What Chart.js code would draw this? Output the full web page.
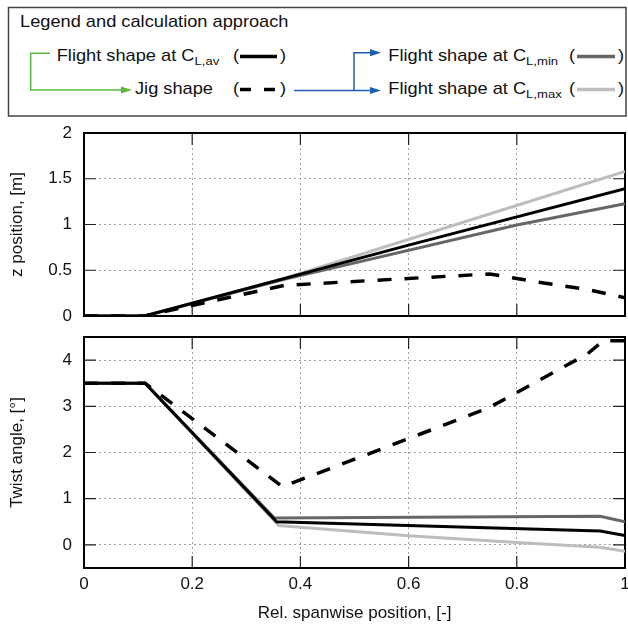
<!DOCTYPE html>
<html>
<head>
<meta charset="utf-8">
<script src="https://cdn.jsdelivr.net/npm/chart.js@4.4.1/dist/chart.umd.min.js"></script>
<style>
  html, body { margin: 0; padding: 0; background: #fff; }
  #wrap { position: relative; width: 628px; height: 630px; overflow: hidden; }
  #legend { position: absolute; left: 0; top: 0; }
  canvas { position: absolute; left: 0; }
  #zChart { top: 120px; }
  #twChart { top: 320px; }
  svg text { font-family: "Liberation Sans", Arial, sans-serif; fill: #111; }
</style>
</head>
<body>
<div id="wrap">
  <svg id="legend" width="628" height="120">
    <rect x="8.5" y="7.5" width="617.5" height="108.5" fill="none" stroke="#444" stroke-width="1.5"/>
    <text font-size="16" transform="translate(20,26.7) scale(1.14,1)">Legend and calculation approach</text>

    <!-- left column -->
    <text font-size="16" transform="translate(56.7,61) scale(1.14,1)">Flight shape at C<tspan font-size="11.5" dy="4">L,av</tspan></text>
    <text font-size="16" transform="translate(233,61) scale(1.14,1)">(</text>
    <line x1="240" x2="277" y1="56.5" y2="56.5" stroke="#000" stroke-width="3.5"/>
    <text font-size="16" transform="translate(280,61) scale(1.14,1)">)</text>

    <text font-size="16" transform="translate(135,94) scale(1.14,1)">Jig shape</text>
    <text font-size="16" transform="translate(233,94) scale(1.14,1)">(</text>
    <line x1="240" x2="251" y1="89.5" y2="89.5" stroke="#000" stroke-width="3.5"/>
    <line x1="264" x2="275" y1="89.5" y2="89.5" stroke="#000" stroke-width="3.5"/>
    <text font-size="16" transform="translate(280,94) scale(1.14,1)">)</text>

    <!-- right column -->
    <text font-size="16" transform="translate(388.3,61) scale(1.14,1)">Flight shape at C<tspan font-size="11.5" dy="4">L,min</tspan></text>
    <text font-size="16" transform="translate(569,61) scale(1.14,1)">(</text>
    <line x1="577" x2="615" y1="56.5" y2="56.5" stroke="#666" stroke-width="3.5"/>
    <text font-size="16" transform="translate(618,61) scale(1.14,1)">)</text>

    <text font-size="16" transform="translate(388.3,94) scale(1.14,1)">Flight shape at C<tspan font-size="11.5" dy="4">L,max</tspan></text>
    <text font-size="16" transform="translate(569,94) scale(1.14,1)">(</text>
    <line x1="577" x2="615" y1="89.5" y2="89.5" stroke="#bdbdbd" stroke-width="3.5"/>
    <text font-size="16" transform="translate(618,94) scale(1.14,1)">)</text>

    <!-- calculation arrows -->
    <path d="M50,53.3 H30.7 V90 H122" fill="none" stroke="#5cb83c" stroke-width="1.5"/>
    <polygon points="121,86.4 132,90 121,93.6" fill="#5cb83c"/>
    <path d="M294,90.5 H371 M354,90.5 V52.7 H371" fill="none" stroke="#1c5fae" stroke-width="1.5"/>
    <polygon points="370,49.1 381,52.7 370,56.3" fill="#1c5fae"/>
    <polygon points="370,86.9 381,90.5 370,94.1" fill="#1c5fae"/>
  </svg>
  <canvas id="zChart" width="628" height="210"></canvas>
  <canvas id="twChart" width="628" height="310"></canvas>
</div>

<script>
const FONT = '"Liberation Sans", Arial, sans-serif';
const TICK = 12;

// tick values
const xTicks = [0, 0.2, 0.4, 0.6, 0.8, 1];
const zTicks = [0, 0.5, 1, 1.5, 2];
const twistTicks = [0, 1, 2, 3, 4];

// z position, [m]
const zAvX  = [0, 0.112, 0.6, 1];
const zAvY  = [0, 0, 0.775, 1.39];
const zJigX = [0, 0.112, 0.37, 0.75, 0.84, 0.93, 1];
const zJigY = [0, 0, 0.335, 0.46, 0.37, 0.29, 0.2];
const zMinX = [0, 0.112, 0.37, 0.8, 1];
const zMinY = [0, 0, 0.4, 0.995, 1.228];
const zMaxX = [0, 0.112, 0.37, 1];
const zMaxY = [0, 0, 0.41, 1.58];

// twist angle, [deg]
const twAvX  = [0, 0.113, 0.356, 0.954, 1];
const twAvY  = [3.5, 3.5, 0.5, 0.3, 0.205];
const twJigX = [0, 0.113, 0.367, 0.747, 0.93, 0.96, 1];
const twJigY = [3.5, 3.5, 1.26, 2.96, 4.13, 4.42, 4.42];
const twMinX = [0, 0.113, 0.352, 0.954, 1];
const twMinY = [3.5, 3.5, 0.58, 0.62, 0.5];
const twMaxX = [0, 0.113, 0.36, 0.6, 0.8, 0.954, 1];
const twMaxY = [3.5, 3.5, 0.42, 0.2, 0.05, -0.05, -0.14];

const pts = (xs, ys) => xs.map((x, i) => ({ x, y: ys[i] }));

/* ---------- box + inner tick marks ---------- */
const framePlugin = {
  id: "frame",
  beforeDatasetsDraw(chart, args, opts) {
    const { ctx, chartArea: a, scales } = chart;
    ctx.save();
    ctx.strokeStyle = "#222";
    ctx.lineWidth = 1.2;
    ctx.beginPath();
    xTicks.forEach(v => {
      const px = scales.x.getPixelForValue(v);
      if (px <= a.left + 1 || px >= a.right - 1) return;
      ctx.moveTo(px, a.bottom); ctx.lineTo(px, a.bottom - TICK);
      ctx.moveTo(px, a.top); ctx.lineTo(px, a.top + TICK);
    });
    opts.yTicks.forEach(v => {
      const py = scales.y.getPixelForValue(v);
      if (py <= a.top + 1 || py >= a.bottom - 1) return;
      ctx.moveTo(a.left, py); ctx.lineTo(a.left + TICK, py);
      ctx.moveTo(a.right, py); ctx.lineTo(a.right - TICK, py);
    });
    ctx.stroke();
    ctx.lineWidth = 2;
    ctx.strokeStyle = "#000";
    ctx.strokeRect(a.left, a.top, a.right - a.left, a.bottom - a.top);
    ctx.restore();
  }
};

const gridOpts = { color: "#a0a0a0", lineWidth: 1, drawTicks: false };
const borderOpts = { display: false, dash: [2, 3] };

function xScale(showLabels) {
  return {
    type: "linear", min: 0, max: 1,
    afterBuildTicks: s => { s.ticks = xTicks.map(v => ({ value: v })); },
    afterFit: s => { s.paddingLeft = 0; s.paddingRight = 0; s.height = showLabels ? 62 : 0; },
    grid: gridOpts,
    border: borderOpts,
    ticks: { display: showLabels, padding: 6, maxRotation: 0, color: "#111", font: { size: 17, family: FONT }, callback: v => String(v) },
    title: { display: showLabels, text: "Rel. spanwise position, [-]", color: "#111", font: { size: 17, family: FONT }, padding: { top: 0, bottom: 6 } }
  };
}

function yScale(min, max, tickVals, titleText) {
  return {
    type: "linear", min, max,
    afterBuildTicks: s => { s.ticks = tickVals.map(v => ({ value: v })); },
    afterFit: s => { s.width = 84; s.paddingTop = 0; s.paddingBottom = 0; },
    grid: gridOpts,
    border: borderOpts,
    ticks: { padding: 12, color: "#111", font: { size: 17, family: FONT }, callback: v => String(v) },
    title: { display: true, text: titleText, color: "#111", font: { size: 17, family: FONT }, padding: { top: 7.5, bottom: 0 } }
  };
}

function series(data, color, dashed) {
  return {
    data,
    borderColor: color,
    borderWidth: dashed ? 3.5 : 3,
    borderDash: dashed ? [14, 13] : [],
    pointRadius: 0,
    tension: 0,
    fill: false
  };
}

function makeChart(id, datasets, y, yTickVals, showX, padding) {
  return new Chart(document.getElementById(id), {
    type: "line",
    data: { datasets },
    options: {
      responsive: false,
      animation: false,
      devicePixelRatio: 1,
      layout: { padding },
      plugins: { legend: { display: false }, tooltip: { enabled: false }, frame: { yTicks: yTickVals } },
      scales: { x: xScale(showX), y }
    },
    plugins: [framePlugin]
  });
}

makeChart("zChart", [
  series(pts(zAvX, zAvY), "#000", false),
  series(pts(zJigX, zJigY), "#000", true),
  series(pts(zMinX, zMinY), "#666666", false),
  series(pts(zMaxX, zMaxY), "#bdbdbd", false)
], yScale(0, 2, zTicks, "z position, [m]"), zTicks, false, { top: 13, bottom: 14, left: 0, right: 3 });

makeChart("twChart", [
  series(pts(twAvX, twAvY), "#000", false),
  series(pts(twJigX, twJigY), "#000", true),
  series(pts(twMinX, twMinY), "#666666", false),
  series(pts(twMaxX, twMaxY), "#bdbdbd", false)
], yScale(-0.5, 4.5, twistTicks, "Twist angle, [°]"), twistTicks, true, { top: 17, bottom: 0, left: 0, right: 3 });
</script>
</body>
</html>
